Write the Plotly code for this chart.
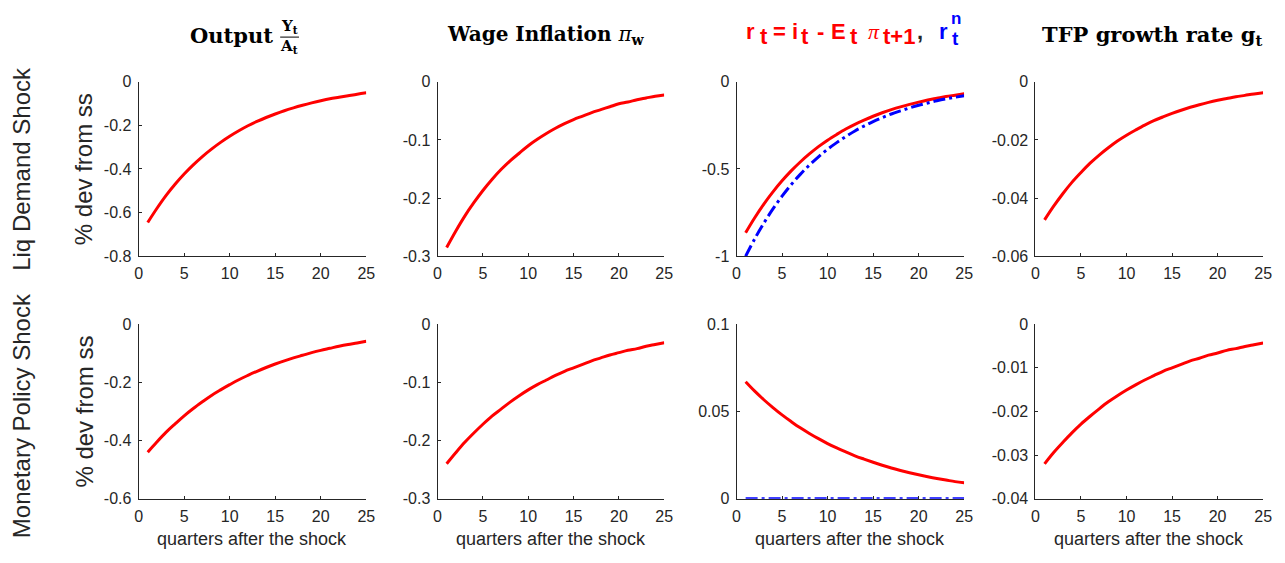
import plotly.graph_objects as go

quarters = list(range(1, 26))

# Liquidity demand shock
liq_output = [-0.645, -0.581, -0.522, -0.470, -0.423, -0.381, -0.343, -0.309, -0.278, -0.250,
              -0.225, -0.202, -0.182, -0.164, -0.148, -0.133, -0.120, -0.108, -0.097, -0.087,
              -0.078, -0.071, -0.064, -0.057, -0.051]
liq_wage = [-0.285, -0.257, -0.231, -0.208, -0.187, -0.168, -0.151, -0.136, -0.123, -0.110,
            -0.099, -0.089, -0.080, -0.072, -0.065, -0.059, -0.053, -0.048, -0.043, -0.038,
            -0.035, -0.031, -0.028, -0.025, -0.023]
liq_r = [-0.865, -0.779, -0.701, -0.631, -0.568, -0.511, -0.460, -0.414, -0.372, -0.335,
         -0.302, -0.271, -0.244, -0.220, -0.198, -0.178, -0.160, -0.144, -0.130, -0.117,
         -0.105, -0.095, -0.085, -0.077, -0.069]
liq_rn = [-1.000, -0.900, -0.810, -0.729, -0.656, -0.590, -0.531, -0.478, -0.430, -0.387,
          -0.349, -0.314, -0.282, -0.254, -0.229, -0.206, -0.185, -0.167, -0.150, -0.135,
          -0.122, -0.109, -0.098, -0.089, -0.080]
liq_tfp = [-0.0475, -0.0428, -0.0385, -0.0346, -0.0312, -0.0280, -0.0252, -0.0227, -0.0204, -0.0184,
           -0.0166, -0.0149, -0.0134, -0.0121, -0.0109, -0.0098, -0.0088, -0.0079, -0.0071, -0.0064,
           -0.0058, -0.0052, -0.0047, -0.0042, -0.0038]

# Monetary policy shock
mp_output = [-0.440, -0.405, -0.372, -0.343, -0.315, -0.290, -0.267, -0.245, -0.226, -0.208,
             -0.191, -0.176, -0.162, -0.149, -0.137, -0.126, -0.116, -0.107, -0.098, -0.090,
             -0.083, -0.076, -0.070, -0.065, -0.059]
mp_wage = [-0.240, -0.221, -0.203, -0.187, -0.172, -0.158, -0.146, -0.134, -0.123, -0.113,
           -0.104, -0.096, -0.088, -0.081, -0.075, -0.069, -0.063, -0.058, -0.053, -0.049,
           -0.045, -0.042, -0.038, -0.035, -0.032]
mp_r = [0.0670, 0.0616, 0.0567, 0.0522, 0.0480, 0.0442, 0.0406, 0.0374, 0.0344, 0.0316,
        0.0291, 0.0268, 0.0246, 0.0227, 0.0209, 0.0192, 0.0176, 0.0162, 0.0149, 0.0137,
        0.0126, 0.0116, 0.0107, 0.0098, 0.0091]
mp_rn = [0.0] * 25
mp_tfp = [-0.0320, -0.0294, -0.0271, -0.0249, -0.0229, -0.0211, -0.0194, -0.0178, -0.0164, -0.0151,
          -0.0139, -0.0128, -0.0118, -0.0108, -0.0100, -0.0092, -0.0084, -0.0078, -0.0071, -0.0066,
          -0.0060, -0.0056, -0.0051, -0.0047, -0.0043]

x_ticks = [0, 5, 10, 15, 20, 25]
x_ticktext = ["0", "5", "10", "15", "20", "25"]

y_ticks = {
    1: ([-0.8, -0.6, -0.4, -0.2, 0], ["-0.8", "-0.6", "-0.4", "-0.2", "0"]),
    2: ([-0.3, -0.2, -0.1, 0], ["-0.3", "-0.2", "-0.1", "0"]),
    3: ([-1, -0.5, 0], ["-1", "-0.5", "0"]),
    4: ([-0.06, -0.04, -0.02, 0], ["-0.06", "-0.04", "-0.02", "0"]),
    5: ([-0.6, -0.4, -0.2, 0], ["-0.6", "-0.4", "-0.2", "0"]),
    6: ([-0.3, -0.2, -0.1, 0], ["-0.3", "-0.2", "-0.1", "0"]),
    7: ([0, 0.05, 0.1], ["0", "0.05", "0.1"]),
    8: ([-0.04, -0.03, -0.02, -0.01, 0], ["-0.04", "-0.03", "-0.02", "-0.01", "0"]),
}

W, H = 1285, 563
col_px = [(136, 366), (438, 667), (740, 970), (1042, 1272)]
row_px = [(76, 256), (326, 506)]

RED = "#ff0000"
BLUE = "#0000ff"
AXC = "#262626"
SANS = "Liberation Sans, Arial, Helvetica, sans-serif"
SERIF = "DejaVu Serif, Liberation Serif, serif"
MSERIF = "Liberation Serif, Times New Roman, serif"

fig = go.Figure()

panels = [
    (1, [(liq_output, RED, "solid")]),
    (2, [(liq_wage, RED, "solid")]),
    (3, [(liq_r, RED, "solid"), (liq_rn, BLUE, "12px,4px,3px,4px")]),
    (4, [(liq_tfp, RED, "solid")]),
    (5, [(mp_output, RED, "solid")]),
    (6, [(mp_wage, RED, "solid")]),
    (7, [(mp_r, RED, "solid"), (mp_rn, BLUE, "12px,4px,3px,4px")]),
    (8, [(mp_tfp, RED, "solid")]),
]

for idx, series in panels:
    sfx = "" if idx == 1 else str(idx)
    for ys, col, dash in series:
        fig.add_trace(go.Scatter(x=quarters, y=ys, mode="lines",
                                 line=dict(color=col, width=3, dash=dash, shape="spline"),
                                 xaxis="x" + sfx, yaxis="y" + sfx, showlegend=False,
                                 hoverinfo="skip", cliponaxis=False))
    r = (idx - 1) // 4
    c = (idx - 1) % 4
    x0, x1 = col_px[c]
    y0, y1 = row_px[r]
    tv, tt = y_ticks[idx]
    common = dict(showline=True, linecolor=AXC, linewidth=1, ticks="inside", ticklen=3,
                  tickcolor=AXC, showgrid=False, zeroline=False,
                  tickfont=dict(family=SANS, size=16, color=AXC))
    fig.layout["xaxis" + sfx] = dict(domain=[x0 / W, x1 / W], anchor="y" + sfx,
                                     range=[0, 25], tickvals=x_ticks, ticktext=x_ticktext,
                                     ticklabelstandoff=3, **common)
    fig.layout["yaxis" + sfx] = dict(domain=[1 - y1 / H, 1 - y0 / H], anchor="x" + sfx,
                                     range=[tv[0], tv[-1]], tickvals=tv, ticktext=tt,
                                     ticklabelstandoff=3, **common)

ann = []
def A(text, x, y, size, family=SANS, color=AXC, angle=0, xanchor="center", yanchor="middle"):
    ann.append(dict(text=text, x=x / W, y=1 - y / H, xref="paper", yref="paper",
                    showarrow=False, font=dict(family=family, size=size, color=color),
                    textangle=angle, xanchor=xanchor, yanchor=yanchor, borderpad=0))

# Row labels and y titles
A("Liq Demand Shock", 18, 166, 24, angle=-90)
A("Monetary Policy Shock", 18, 420, 24, angle=-90)
A("% dev from ss", 81, 166, 24, angle=-90)
A("% dev from ss", 81, 416, 24, angle=-90)
# x titles
for x0, x1 in col_px:
    A("quarters after the shock", (x0 + x1) / 2, 548, 18)

# Column titles
A("<b>Output</b>", 273, 28, 21, family=SERIF, color="#000000", xanchor="right")
A("<b>Y<sub>t</sub></b>", 288, 19, 15, family=SERIF, color="#000000")
A("<b>A<sub>t</sub></b>", 288, 40, 15, family=SERIF, color="#000000")
A("<b>Wage Inflation </b><i>π</i><b><sub>w</sub></b>", 548, 28, 20, family=SERIF, color="#000000")
A("<b>TFP growth rate g<sub>t</sub></b>", 1160, 28, 21, family=SERIF, color="#000000")

# r_t = i_t - E_t pi_{t+1} , r_t^n  (MATLAB-style full-size subscripts)
MAIN_Y, SUB_Y = 24, 29
title3 = [
    ("<b>r</b>", 749, MAIN_Y, RED, SANS),
    ("<b>t</b>", 763, SUB_Y, RED, SANS),
    ("<b>=</b>", 776, MAIN_Y, RED, SANS),
    ("<b>i</b>", 795, MAIN_Y, RED, SANS),
    ("<b>t</b>", 804, SUB_Y, RED, SANS),
    ("<b>-</b>", 820, MAIN_Y, RED, SANS),
    ("<b>E</b>", 834, MAIN_Y, RED, SANS),
    ("<b>t</b>", 854, SUB_Y, RED, SANS),
    ("<i>π</i>", 872, MAIN_Y, RED, MSERIF),
    ("<b>t+1</b>", 887, SUB_Y, RED, SANS),
    ("<b>,</b>", 921, MAIN_Y, AXC, SANS),
    ("<b>r</b>", 944, MAIN_Y, BLUE, SANS),
]
for txt, xl, yc, colr, fam in title3:
    A(txt, xl, yc, 22, family=fam, color=colr, xanchor="left")
A("<b>n</b>", 956, 11, 17, color=BLUE, xanchor="left")
A("<b>t</b>", 957, 31, 19, color=BLUE, xanchor="left")

fig.update_layout(
    width=W, height=H, margin=dict(l=0, r=0, t=0, b=0),
    paper_bgcolor="white", plot_bgcolor="white",
    annotations=ann,
    shapes=[dict(type="line", xref="paper", yref="paper", x0=279 / W, x1=298 / W,
                 y0=1 - 30 / H, y1=1 - 30 / H, line=dict(color="black", width=1))],
)

fig.write_html("out.html")
